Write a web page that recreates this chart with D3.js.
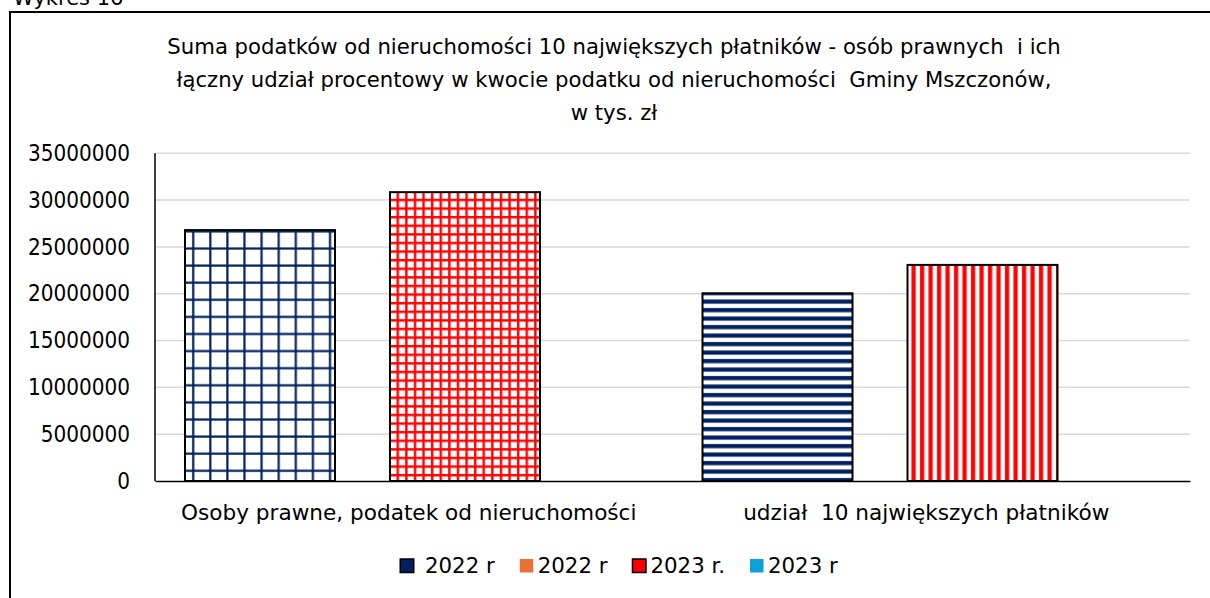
<!DOCTYPE html>
<html>
<head>
<meta charset="utf-8">
<script src="https://cdn.jsdelivr.net/npm/d3@7"></script>
<style>
  body { margin: 0; background: #fff; }
  svg { display: block; font-family: "DejaVu Sans", sans-serif; }
  text { white-space: pre; }
</style>
</head>
<body>
<div id="chart"></div>
<script>
// values (zł)
const categories = ["Osoby prawne, podatek od nieruchomości", "udział  10 największych płatników"];
const seriesKeys = ["2022", "2023"];
const values2022 = [26800000, 20050000];
const values2023 = [30850000, 23080000];
const yTicks = [0, 5000000, 10000000, 15000000, 20000000, 25000000, 30000000, 35000000];
const legendLabels = [" 2022 r", "2022 r", "2023 r.", "2023 r"];
const legendColors = ["#002060", "#E97132", "#FF0000", "#0F9ED5"];
const legendBorder = [true, false, true, false];
const titleLines = [
    "Suma podatków od nieruchomości 10 największych płatników - osób prawnych  i ich",
    "łączny udział procentowy w kwocie podatku od nieruchomości  Gminy Mszczonów,",
    "w tys. zł"
];

const width = 1210, height = 598;
const marginLeft = 155, marginRight = 20, marginTop = 153.3, marginBottom = 117;

const svg = d3.select("#chart").append("svg")
    .attr("width", width)
    .attr("height", height)
    .attr("viewBox", [0, 0, width, height]);

// hatch patterns used by the bars
const defs = svg.append("defs");
function addPattern(id, w, h, draw) {
    const p = defs.append("pattern")
        .attr("id", id)
        .attr("patternUnits", "userSpaceOnUse")
        .attr("width", w)
        .attr("height", h);
    p.append("rect").attr("width", w).attr("height", h).attr("fill", "#fff");
    draw(p);
}
addPattern("gridNavy", 17.1, 17.1, p => {
    p.append("rect").attr("x", 4).attr("width", 2.2).attr("height", 17.1).attr("fill", "#002060");
    p.append("rect").attr("y", 8).attr("width", 17.1).attr("height", 2.2).attr("fill", "#002060");
});
addPattern("gridRed", 8.6, 8.6, p => {
    p.append("rect").attr("x", 1).attr("width", 2.4).attr("height", 8.6).attr("fill", "#FF0000");
    p.append("rect").attr("y", 1).attr("width", 8.6).attr("height", 2.4).attr("fill", "#FF0000");
});
addPattern("stripeNavy", 8.5, 8.5, p => {
    p.append("rect").attr("y", 2).attr("width", 8.5).attr("height", 4.2).attr("fill", "#002060");
});
addPattern("stripeRed", 8.5, 8.5, p => {
    p.append("rect").attr("x", 2).attr("width", 4.2).attr("height", 8.5).attr("fill", "#FF0000");
});
const barPatterns = [["gridNavy", "gridRed"], ["stripeNavy", "stripeRed"]];

// outer frame of the chart area (runs past the right and bottom edge)
svg.append("rect")
    .attr("x", 10).attr("y", 12)
    .attr("width", 1220).attr("height", 700)
    .attr("fill", "none")
    .attr("stroke", "#000")
    .attr("stroke-width", 2);

svg.append("text")
    .attr("x", 13).attr("y", 5)
    .attr("font-size", 21)
    .text("Wykres 16");

svg.append("g")
    .attr("font-size", 21.2)
    .attr("text-anchor", "middle")
    .selectAll("text")
    .data(titleLines)
    .join("text")
    .attr("x", 614)
    .attr("y", (d, i) => 47 + i * 33)
    .attr("dy", "0.35em")
    .text(d => d);

const x0 = d3.scaleBand()
    .domain(categories)
    .range([marginLeft, width - marginRight]);
const x1 = d3.scaleBand()
    .domain(seriesKeys)
    .range([30, 385])
    .paddingInner(55 / 205);
const y = d3.scaleLinear()
    .domain([0, 35000000])
    .range([height - marginBottom, marginTop]);

// gridlines
svg.append("g")
    .attr("stroke", "#d9d9d9")
    .attr("stroke-width", 1.5)
    .selectAll("line")
    .data(yTicks.filter(d => d > 0))
    .join("line")
    .attr("x1", marginLeft)
    .attr("x2", width - marginRight)
    .attr("y1", d => y(d))
    .attr("y2", d => y(d));

svg.append("g")
    .attr("transform", `translate(${marginLeft},0)`)
    .call(d3.axisLeft(y).tickValues(yTicks).tickSize(0).tickPadding(25).tickFormat(d3.format("d")))
    .attr("font-family", "'DejaVu Sans Condensed', 'DejaVu Sans', sans-serif")
    .attr("font-stretch", "condensed")
    .attr("font-size", 22.3)
    .call(g => g.select(".domain").remove())
    .call(g => g.selectAll("text").attr("fill", "#000"));

// bars
const barData = categories.flatMap((c, i) => [
    {cat: c, key: "2022", value: values2022[i], pattern: barPatterns[i][0]},
    {cat: c, key: "2023", value: values2023[i], pattern: barPatterns[i][1]}
]);
svg.append("g")
    .selectAll("rect")
    .data(barData)
    .join("rect")
    .attr("x", d => x0(d.cat) + x1(d.key))
    .attr("y", d => y(d.value))
    .attr("width", x1.bandwidth())
    .attr("height", d => y(0) - y(d.value))
    .attr("fill", d => `url(#${d.pattern})`)
    .attr("stroke", "#000")
    .attr("stroke-width", 2);

// axis lines
svg.append("line")
    .attr("x1", marginLeft).attr("x2", marginLeft)
    .attr("y1", marginTop).attr("y2", y(0))
    .attr("stroke", "#000").attr("stroke-width", 1.5);

svg.append("g")
    .attr("transform", `translate(0,${y(0)})`)
    .call(d3.axisBottom(x0).tickSize(0).tickPadding(24))
    .attr("font-family", null)
    .attr("font-size", 21.6)
    .call(g => g.select(".domain")
        .attr("stroke", "#000")
        .attr("stroke-width", 1.5))
    .call(g => g.selectAll("text")
        .attr("dx", -5)
        .attr("fill", "#000"));

// legend, laid out from measured text widths and centred
const legend = svg.append("g")
    .attr("font-size", 21.3);
const items = legend.selectAll("g")
    .data(legendLabels)
    .join("g");
items.append("rect")
    .attr("width", 13.5).attr("height", 13.5)
    .attr("y", 559)
    .attr("fill", (d, i) => legendColors[i])
    .attr("stroke", (d, i) => legendBorder[i] ? "#000" : "none")
    .attr("stroke-width", 1.5);
items.append("text")
    .attr("x", 18)
    .attr("y", 566)
    .attr("dy", "0.35em")
    .text(d => d);
let cursor = 0;
items.each(function() {
    const w = d3.select(this).select("text").node().getComputedTextLength();
    d3.select(this).attr("transform", `translate(${cursor},0)`);
    cursor += 18 + w + 25;
});
const total = cursor - 25;
legend.attr("transform", `translate(${619 - total / 2},0)`);
</script>
</body>
</html>
